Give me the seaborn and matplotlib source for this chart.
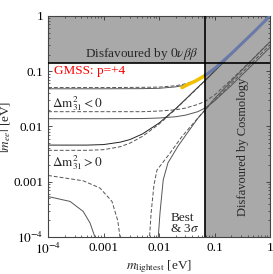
import numpy as np
import pandas as pd
import matplotlib
matplotlib.use('Agg')
import matplotlib.pyplot as plt
import seaborn as sns

# tick labels
tick_vals = [1e-4, 1e-3, 1e-2, 1e-1, 1]
x_ticklabels = [r'$10^{-4}$', '0.001', '0.01', '0.1', '1']
y_ticklabels = [r'$10^{-4}$', '0.001', '0.01', '0.1', '1']

# bounds of the disfavoured regions
cosmo_bound = 0.068
bb_bound = 0.14

# inverted hierarchy, upper edge
ih_up_m = [1e-4, 1e-3, 0.005, 0.01, 0.02, 0.03, 0.05, 0.07, 0.1, 0.2, 0.5, 1]
ih_up_best = [0.048, 0.048, 0.0483, 0.049, 0.052, 0.056, 0.069, 0.084, 0.111, 0.207, 0.5, 1.0]
ih_up_3s = [0.0505, 0.0505, 0.051, 0.0515, 0.0545, 0.059, 0.07, 0.084, 0.111, 0.207, 0.5, 1.0]

# inverted hierarchy, lower edge
ih_lo_m = [1e-4, 1e-3, 0.005, 0.01, 0.02, 0.03, 0.05, 0.07, 0.1, 0.2, 0.5, 1]
ih_lo_3s = [0.0185, 0.0185, 0.0185, 0.019, 0.02, 0.0215, 0.025, 0.029, 0.037, 0.07, 0.17, 0.34]
ih_lo_best = [0.0138, 0.0138, 0.0139, 0.0142, 0.015, 0.016, 0.0185, 0.022, 0.029, 0.055, 0.135, 0.27]

# normal hierarchy, upper edge
nh_up_m = [1e-4, 5e-4, 1e-3, 2e-3, 3e-3, 5e-3, 0.01, 0.02, 0.03, 0.05, 0.07, 0.1, 0.2, 0.5, 1]
nh_up_best = [0.0046, 0.0046, 0.0047, 0.0052, 0.0058, 0.0073, 0.0115, 0.021, 0.031, 0.051, 0.07, 0.1, 0.2, 0.5, 1]
nh_up_3s = [0.0037, 0.0037, 0.0038, 0.0043, 0.005, 0.0066, 0.011, 0.0205, 0.0305, 0.05, 0.07, 0.1, 0.2, 0.5, 1]

# normal hierarchy, lower edge (left branches)
nh_lo_best_m1 = [1e-4, 2.5e-4, 4.3e-4, 5.7e-4, 7e-4, 7.3e-4]
nh_lo_best_1 = [0.00054, 0.00044, 0.00029, 0.00018, 0.0001, 0.00005]
nh_lo_3s_m1 = [1e-4, 4.3e-4, 8.6e-4, 1.42e-3, 1.8e-3, 1.98e-3, 2.05e-3]
nh_lo_3s_1 = [0.0013, 0.00104, 0.00077, 0.00044, 0.0002, 0.0001, 0.00005]

# normal hierarchy, lower edge (right branches)
nh_lo_3s_m2 = [0.0065, 0.00675, 0.0072, 0.0081, 0.0092, 0.0158, 0.0257, 0.0415, 0.063, 0.1, 0.3, 1]
nh_lo_3s_2 = [0.00005, 0.0001, 0.00027, 0.00087, 0.00163, 0.0033, 0.0065, 0.0114, 0.0185, 0.03, 0.09, 0.3]
nh_lo_best_m2 = [0.0094, 0.0097, 0.0104, 0.0119, 0.0145, 0.0223, 0.035, 0.05, 0.068, 0.1, 0.3, 1]
nh_lo_best_2 = [0.00005, 0.0001, 0.00027, 0.00108, 0.0022, 0.0045, 0.0085, 0.014, 0.02, 0.032, 0.1, 0.34]

# GMSS p=+4 band
gmss_m = [0.026, 0.035, 0.045, 0.055, 0.068]
gmss_mee = [0.0505, 0.059, 0.066, 0.074, 0.084]
gmss_hi_m = [0.068, 0.1, 0.2, 0.5, 1]
gmss_hi_mee = [0.084, 0.111, 0.207, 0.5, 1.0]

sns.set_style('ticks')
plt.rcParams['font.family'] = ['Liberation Serif', 'DejaVu Serif']
plt.rcParams['mathtext.fontset'] = 'stix'

fig = plt.figure(figsize=(2.73, 2.74), dpi=100)
ax = fig.add_axes([0.176, 0.135, 0.813, 0.807])
ax.set(xscale='log', yscale='log', xlim=(1e-4, 1), ylim=(1e-4, 1))

grey = '#a9a9a9'
ax.axvspan(cosmo_bound, 1, color=grey, lw=0, zorder=0)
ax.axhspan(bb_bound, 1, color=grey, lw=0, zorder=0)


def curve(m, mee, ls, color='#555555', lw=0.7, z=2):
    df = pd.DataFrame({'m': m, 'mee': mee})
    sns.lineplot(data=df, x='m', y='mee', sort=False, estimator=None, ax=ax,
                 color=color, lw=lw, linestyle=ls, zorder=z)


curve(ih_up_m, ih_up_best, '-')
curve(ih_up_m, ih_up_3s, (0, (4, 2)))
curve(ih_lo_m, ih_lo_best, '-')
curve(ih_lo_m, ih_lo_3s, (0, (4, 2)))
curve(nh_up_m, nh_up_best, '-', color='#222222')
curve(nh_up_m, nh_up_3s, (0, (4, 2)))
curve(nh_lo_best_m1, nh_lo_best_1, '-')
curve(nh_lo_3s_m1, nh_lo_3s_1, (0, (4, 2)))
curve(nh_lo_best_m2, nh_lo_best_2, '-')
curve(nh_lo_3s_m2, nh_lo_3s_2, (0, (4, 2)))

curve(gmss_m, gmss_mee, '-', color='#f0c000', lw=2.5, z=3)
curve(gmss_hi_m, gmss_hi_mee, '-', color='#6a7aa8', lw=2.2, z=3)

ax.axvline(cosmo_bound, color='black', lw=1.2, zorder=4)
ax.axhline(bb_bound, color='black', lw=1.2, zorder=4)

ax.text(0.0049, 0.205, r'Disfavoured by $0\nu\beta\beta$', ha='center', va='center', fontsize=9.5)
ax.text(0.32, 0.0042, 'Disfavoured by Cosmology', rotation=90, ha='center', va='center', fontsize=9)
ax.text(1.3e-4, 0.1, 'GMSS: p=+4', color='red', ha='left', va='center', fontsize=9.5)
ax.text(1.2e-4, 0.026, r'$\Delta\mathrm{m}^2_{31} < 0$', ha='left', va='center', fontsize=9.5)
ax.text(1.2e-4, 0.0022, r'$\Delta\mathrm{m}^2_{31} > 0$', ha='left', va='center', fontsize=9.5)
ax.text(0.016, 2.2e-4, 'Best', ha='left', va='center', fontsize=9.5)
ax.text(0.016, 1.4e-4, r'& 3$\sigma$', ha='left', va='center', fontsize=9.5)

ax.set_xticks(tick_vals)
ax.set_xticklabels(x_ticklabels)
ax.set_yticks(tick_vals)
ax.set_yticklabels(y_ticklabels)
ax.tick_params(which='both', direction='in', top=True, right=True, labelsize=9.5, colors='#333333', labelcolor='black')
ax.tick_params(which='major', length=3, width=0.6)
ax.tick_params(which='minor', length=1.5, width=0.5)
for s in ax.spines.values():
    s.set_color('#444444')
    s.set_linewidth(0.8)

ax.set_xlabel(r'$m_{\rm lightest}$ [eV]', fontsize=9.5, labelpad=1)
ax.set_ylabel(r'$|m_{ee}|$ [eV]', fontsize=9.5, labelpad=0)

fig.savefig('out.png', dpi=100)
